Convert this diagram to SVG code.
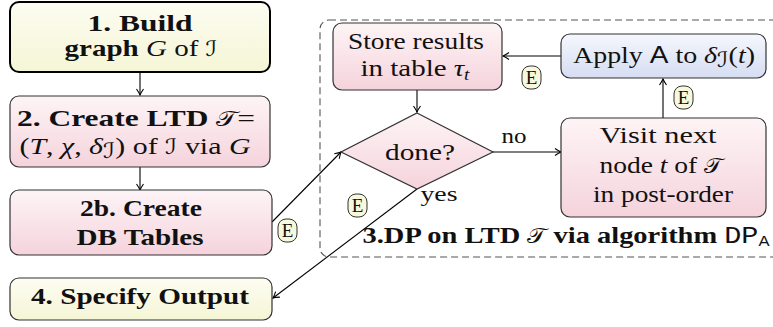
<svg xmlns="http://www.w3.org/2000/svg" width="773" height="327" viewBox="0 0 773 327">
  <defs>
    <linearGradient id="gYellow" x1="0" y1="0" x2="0" y2="1">
      <stop offset="0" stop-color="#fdfdf2"/>
      <stop offset="1" stop-color="#f5f5d6"/>
    </linearGradient>
    <linearGradient id="gPink" x1="0" y1="0" x2="0" y2="1">
      <stop offset="0" stop-color="#fdf4f6"/>
      <stop offset="1" stop-color="#f5d3dc"/>
    </linearGradient>
    <linearGradient id="gBlue" x1="0" y1="0" x2="0" y2="1">
      <stop offset="0" stop-color="#f5f7fd"/>
      <stop offset="1" stop-color="#d6ddf2"/>
    </linearGradient>
    <marker id="arr" viewBox="-8 -5 10 10" refX="0" refY="0" markerWidth="10" markerHeight="10" markerUnits="userSpaceOnUse" orient="auto">
      <path d="M-6,-3.5 Q-2,-0.8 0,0 Q-2,0.8 -6,3.5" fill="none" stroke="#000" stroke-width="1.1"/>
    </marker>
  </defs>
  <style>
    .box { stroke: #333; stroke-width: 1.2; }
    .main { stroke: #000; stroke-width: 2; }
    text { font-family: 'Liberation Serif', 'Times New Roman', serif; }
    .t { font-size: 24px; fill: #111; text-anchor: middle; }
    .b { font-weight: bold; }
    .m { font-style: italic; }
    .cal { font-family: 'DejaVu Sans', sans-serif; font-style: normal; font-weight: normal; font-size: 21px; }
    .sans { font-family: 'Liberation Sans', Arial, sans-serif; font-style: normal; font-weight: normal; }
    .mono { font-family: 'Liberation Mono', 'Courier New', monospace; font-weight: normal; }
    .lbl { font-size: 20px; }
    .edge { fill: none; stroke: #000; stroke-width: 1.1; marker-end: url(#arr); }
    .badge { fill: #f8f8dc; stroke: #333; stroke-width: 1; }
    .bt { font-size: 19px; fill: #111; text-anchor: middle; }
  </style>

  <!-- dashed frame around the DP stage -->
  <rect id="dp-frame" x="320" y="20" width="520" height="237" rx="9" fill="none" stroke="#555" stroke-width="1.1" stroke-dasharray="7 4"/>

  <!-- connectors -->
  <g id="connectors">
    <line class="edge" x1="140" y1="72" x2="140" y2="95"/>
    <line class="edge" x1="140" y1="167" x2="140" y2="190"/>
    <line class="edge" x1="272" y1="222" x2="341" y2="152"/>
    <line class="edge" x1="417" y1="90" x2="417" y2="112"/>
    <line class="edge" x1="493" y1="152" x2="561" y2="152"/>
    <line class="edge" x1="663" y1="118" x2="663" y2="79"/>
    <line class="edge" x1="561" y1="56" x2="503" y2="56"/>
    <line class="edge" x1="417" y1="189" x2="273" y2="298"/>
    <text class="t lbl" x="514" y="143" textLength="25" lengthAdjust="spacingAndGlyphs">no</text>
    <text class="t lbl" x="439" y="201" textLength="37" lengthAdjust="spacingAndGlyphs">yes</text>
    <g id="badges">
      <rect class="badge" x="278" y="219" width="19" height="23" rx="8"/>
      <text class="bt" x="287.5" y="237">E</text>
      <rect class="badge" x="348" y="194" width="19" height="23" rx="8"/>
      <text class="bt" x="357.5" y="212">E</text>
      <rect class="badge" x="522" y="66" width="19" height="23" rx="8"/>
      <text class="bt" x="531.5" y="84">E</text>
      <rect class="badge" x="674" y="86" width="19" height="23" rx="8"/>
      <text class="bt" x="683.5" y="104">E</text>
    </g>
  </g>

  <g id="build-graph">
    <rect class="main" x="10" y="2" width="260" height="70" rx="9" fill="url(#gYellow)"/>
    <text class="t b" x="140" y="31" textLength="105" lengthAdjust="spacingAndGlyphs">1. Build</text>
    <text class="t" x="141" y="56" textLength="153" lengthAdjust="spacingAndGlyphs"><tspan class="b">graph </tspan><tspan class="m">G</tspan> of <tspan class="cal">ℐ</tspan></text>
  </g>

  <g id="create-ltd">
    <rect class="box" x="10" y="96" width="260" height="71" rx="9" fill="url(#gPink)"/>
    <text class="t b" x="136" y="126" textLength="238" lengthAdjust="spacingAndGlyphs">2. Create LTD <tspan class="cal">𝒯</tspan><tspan font-weight="normal">=</tspan></text>
    <text class="t" x="135" y="154" textLength="231" lengthAdjust="spacingAndGlyphs">(<tspan class="m">T</tspan>, <tspan class="m">χ</tspan>, <tspan class="m">δ</tspan><tspan class="cal" font-size="14" dy="4">ℐ</tspan><tspan dy="-4">)</tspan> of <tspan class="cal">ℐ</tspan> via <tspan class="m">G</tspan></text>
  </g>

  <g id="create-tables">
    <rect class="box" x="10" y="190" width="262" height="65" rx="9" fill="url(#gPink)"/>
    <text class="t b" x="141" y="216" textLength="122" lengthAdjust="spacingAndGlyphs">2b. Create</text>
    <text class="t b" x="140" y="245" textLength="127" lengthAdjust="spacingAndGlyphs">DB Tables</text>
  </g>

  <g id="specify-output">
    <rect class="box" x="10" y="278" width="262" height="42" rx="9" fill="url(#gYellow)"/>
    <text class="t b" x="140" y="304" textLength="218" lengthAdjust="spacingAndGlyphs">4. Specify Output</text>
  </g>

  <g id="store-results">
    <rect class="box" x="333" y="23" width="169" height="67" rx="9" fill="url(#gPink)"/>
    <text class="t" x="416" y="49" textLength="136" lengthAdjust="spacingAndGlyphs">Store results</text>
    <text class="t" x="415" y="76" textLength="109" lengthAdjust="spacingAndGlyphs">in table <tspan class="m">τ</tspan><tspan class="m" font-size="16" dy="4">t</tspan></text>
  </g>

  <g id="apply-algorithm">
    <rect class="box" x="561" y="34" width="205" height="44" rx="9" fill="url(#gBlue)"/>
    <text class="t" x="664" y="63" textLength="182" lengthAdjust="spacingAndGlyphs">Apply <tspan class="sans">A</tspan> to <tspan class="m">δ</tspan><tspan class="cal" font-size="14" dy="4">ℐ</tspan><tspan dy="-4">(</tspan><tspan class="m">t</tspan>)</text>
  </g>

  <g id="done-check">
    <polygon class="box" points="417,113 493,152 417,189 341,152" fill="url(#gPink)"/>
    <text class="t" x="420" y="160" textLength="70" lengthAdjust="spacingAndGlyphs">done?</text>
  </g>

  <g id="visit-node">
    <rect class="box" x="561" y="118" width="205" height="99" rx="9" fill="url(#gPink)"/>
    <text class="t" x="658" y="143" textLength="117" lengthAdjust="spacingAndGlyphs">Visit next</text>
    <text class="t" x="661" y="173" textLength="123" lengthAdjust="spacingAndGlyphs">node <tspan class="m">t</tspan> of <tspan class="cal">𝒯</tspan></text>
    <text class="t" x="663" y="202" textLength="140" lengthAdjust="spacingAndGlyphs">in post-order</text>
  </g>

  <g id="dp-label">
    <text class="t b" x="566" y="243" textLength="407" lengthAdjust="spacingAndGlyphs">3.DP on LTD <tspan class="cal">𝒯</tspan> via algorithm <tspan class="mono">DP</tspan><tspan class="sans" font-size="14" dy="3">A</tspan></text>
  </g>
</svg>
